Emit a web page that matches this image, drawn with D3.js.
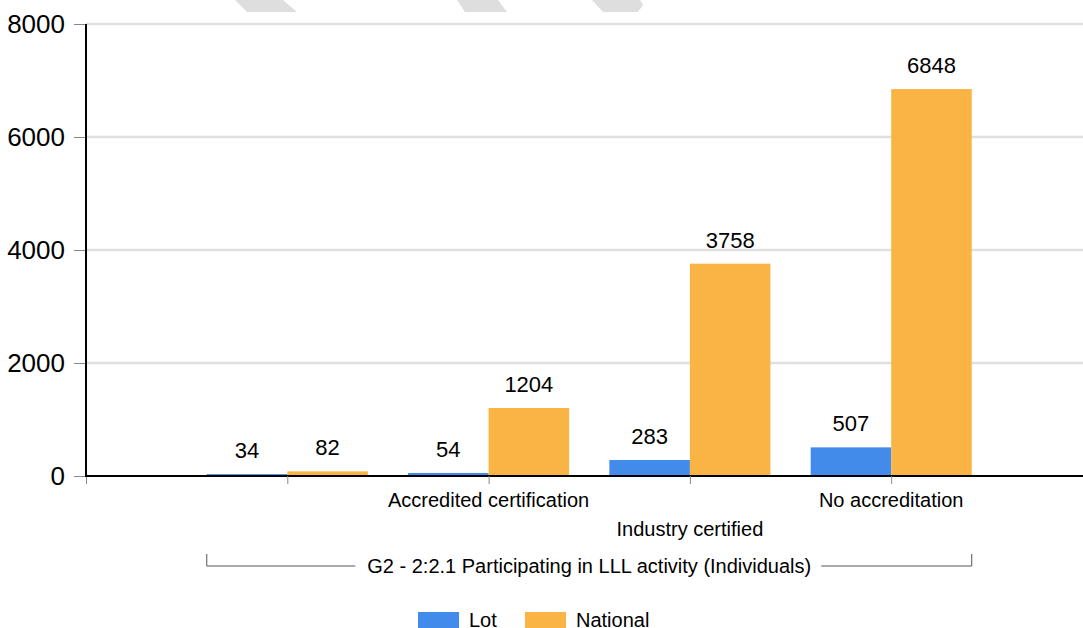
<!DOCTYPE html>
<html lang="en">
  <head>
    <meta charset="UTF-8" />
    <title>G2 - 2:2.1 Participating in LLL activity</title>
    <style>
      html, body { margin: 0; padding: 0; background: #fff; }
      svg { display: block; font-family: "Liberation Sans", Arial, sans-serif; }
    </style>
  </head>
  <body>
    <svg width="1083" height="628"></svg>

    <script src="https://d3js.org/d3.v7.min.js"></script>
    <script>
      // Data
      const categories = ["", "Accredited certification", "Industry certified", "No accreditation"];
      const lotValues = [34, 54, 283, 507];
      const nationalValues = [82, 1204, 3758, 6848];
      const seriesNames = ["Lot", "National"];
      const yTicks = [0, 2000, 4000, 6000, 8000];
      const groupTitle = "G2 - 2:2.1 Participating in LLL activity (Individuals)";

      const colors = { Lot: "#428bea", National: "#fab443" };

      const svg = d3.select("svg");

      // scales
      const x = d3.scaleLinear().domain([0, 5]).range([86, 1092.5]);
      const step = x(1) - x(0);
      const barW = step * 0.4;
      const y = d3.scaleLinear().domain([0, 8000]).range([476, 24]);

      // watermark bits at the top
      const marks = [
        [[235, 0], [283, 0], [297, 12], [247, 12]],
        [[457, 0], [498, 0], [507, 12], [465, 12]],
        [[592, 0], [640, 0], [643, 5], [638, 12], [603, 12]],
      ];
      svg
        .selectAll(".wm")
        .data(marks)
        .enter()
        .append("polygon")
        .attr("class", "wm")
        .attr("points", (d) => d.map((p) => p.join(",")).join(" "))
        .attr("fill", "#dedede");

      // grid
      svg
        .append("g")
        .selectAll("line")
        .data(yTicks.filter((t) => t > 0))
        .enter()
        .append("line")
        .attr("x1", 86)
        .attr("x2", 1083)
        .attr("y1", (d) => y(d))
        .attr("y2", (d) => y(d))
        .attr("stroke", "#e0e0e0")
        .attr("stroke-width", 2.5);

      // y axis
      const yAxis = svg
        .append("g")
        .attr("transform", "translate(86,0)")
        .call(d3.axisLeft(y).tickValues(yTicks).tickSize(12).tickPadding(9).tickFormat(d3.format("d")));
      yAxis.select(".domain").remove();
      yAxis.selectAll(".tick line").attr("stroke", "#888");
      yAxis.selectAll(".tick text").attr("font-size", 26).attr("fill", "#000").attr("font-family", "Liberation Sans, Arial, sans-serif");

      // bars
      const rows = categories.map((c, i) => ({ i, c, Lot: lotValues[i], National: nationalValues[i] }));
      const groups = svg
        .selectAll(".grp")
        .data(rows)
        .enter()
        .append("g")
        .attr("class", "grp");

      seriesNames.forEach((s, k) => {
        groups
          .append("rect")
          .attr("x", (d) => x(d.i + 1) - barW + k * barW)
          .attr("y", (d) => y(d[s]))
          .attr("width", barW)
          .attr("height", (d) => y(0) - y(d[s]))
          .attr("fill", colors[s]);

        groups
          .append("text")
          .attr("x", (d) => x(d.i + 1) - barW / 2 + k * barW)
          .attr("y", (d) => y(d[s]) - 16)
          .attr("text-anchor", "middle")
          .attr("font-size", 22)
          .text((d) => d[s]);
      });

      // x axis
      const xAxis = svg
        .append("g")
        .attr("transform", `translate(0,${y(0)})`)
        .call(d3.axisBottom(x).tickValues([0, 1, 2, 3, 4]).tickSize(8).tickFormat(""));
      xAxis.select(".domain").attr("stroke", "#000").attr("stroke-width", 2).attr("d", "M86,0H1083");
      xAxis.selectAll(".tick line").attr("stroke", "#888");

      svg
        .append("line")
        .attr("x1", 86)
        .attr("x2", 86)
        .attr("y1", y(8000))
        .attr("y2", y(0) + 1)
        .attr("stroke", "#000")
        .attr("stroke-width", 2);

      // category labels, staggered
      svg
        .selectAll(".cat")
        .data(rows.filter((d) => d.c))
        .enter()
        .append("text")
        .attr("class", "cat")
        .attr("x", (d) => x(d.i + 1))
        .attr("y", (d) => (d.i % 2 === 0 ? 536 : 507))
        .attr("text-anchor", "middle")
        .attr("font-size", 20)
        .text((d) => d.c);

      // group bracket
      const bx0 = x(1) - barW;
      const bx1 = x(categories.length) + barW;
      const by = 566;
      const title = svg
        .append("text")
        .attr("x", (bx0 + bx1) / 2)
        .attr("y", by + 7)
        .attr("text-anchor", "middle")
        .attr("font-size", 20)
        .text(groupTitle);
      const tw = title.node().getComputedTextLength();
      const mid = (bx0 + bx1) / 2;
      svg
        .append("path")
        .attr("d", `M${bx0},${by - 12}V${by}H${mid - tw / 2 - 12}M${mid + tw / 2 + 10},${by}H${bx1}V${by - 12}`)
        .attr("fill", "none")
        .attr("stroke", "#555")
        .attr("stroke-width", 1);

      // legend
      const legend = svg.append("g").attr("transform", "translate(418,612)");
      const items = legend
        .selectAll("g")
        .data(seriesNames)
        .enter()
        .append("g")
        .attr("transform", (d, i) => `translate(${i * 107},0)`);
      items
        .append("rect")
        .attr("width", 41)
        .attr("height", 18)
        .attr("fill", (d) => colors[d]);
      items
        .append("text")
        .attr("x", 51)
        .attr("y", 15)
        .attr("font-size", 20)
        .text((d) => d);
    </script>
  </body>
</html>
